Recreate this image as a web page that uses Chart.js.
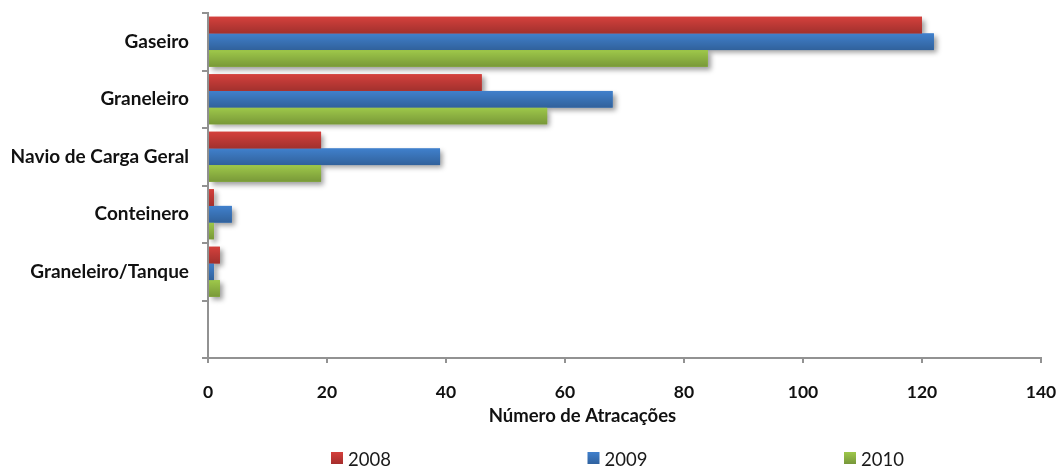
<!DOCTYPE html>
<html>
<head>
<meta charset="utf-8">
<title>Número de Atracações</title>
<script src="https://cdn.jsdelivr.net/npm/chart.js@4/dist/chart.umd.min.js"></script>
<style>
  html, body { margin: 0; padding: 0; background: #ffffff; }
  canvas { display: block; }
</style>
</head>
<body>
<canvas id="chart" width="1062" height="468"></canvas>
<script>
// Ship types (the last slot is left empty on purpose)
const categories = ['Gaseiro', 'Graneleiro', 'Navio de Carga Geral', 'Conteinero', 'Graneleiro/Tanque', ''];
const seriesNames = ['2008', '2009', '2010'];
const values2008 = [120, 46, 19, 1, 2];
const values2009 = [122, 68, 39, 4, 1];
const values2010 = [84, 57, 19, 1, 2];
const xTickValues = [0, 20, 40, 60, 80, 100, 120, 140];
const axisTitle = 'Número de Atracações';

const seriesTop = ['#d4403c', '#4080cc', '#9ec84a'];
const seriesBottom = ['#a52d2c', '#30629f', '#77973a'];
const axisGrey = '#929292';
const FONT = 'Lato, "Open Sans", "Liberation Sans", sans-serif';

// Soft drop shadow behind every bar, drawn before the bars themselves
const barShadow = {
  id: 'barShadow',
  beforeDatasetsDraw(chart) {
    const ctx = chart.ctx;
    ctx.save();
    ctx.shadowColor = 'rgba(0,0,0,0.38)';
    ctx.shadowBlur = 5;
    ctx.shadowOffsetX = 3;
    ctx.shadowOffsetY = 3;
    chart.data.datasets.forEach((ds, di) => {
      chart.getDatasetMeta(di).data.forEach(el => {
        const p = el.getProps(['x', 'y', 'base', 'height'], true);
        const left = Math.min(p.base, p.x);
        const w = Math.abs(p.x - p.base);
        if (w < 0.5) return;
        ctx.fillStyle = ds.backgroundColor;
        ctx.fillRect(left, p.y - p.height / 2, w, p.height);
      });
    });
    ctx.restore();
  }
};

// Vertical shading over each bar: full colour at the top, darker at the bottom
const barShade = {
  id: 'barShade',
  afterDatasetsDraw(chart) {
    const ctx = chart.ctx;
    ctx.save();
    chart.data.datasets.forEach((ds, di) => {
      chart.getDatasetMeta(di).data.forEach(el => {
        const p = el.getProps(['x', 'y', 'base', 'height'], true);
        const left = Math.min(p.base, p.x);
        const w = Math.abs(p.x - p.base);
        if (w < 0.5) return;
        const top = p.y - p.height / 2;
        const g = ctx.createLinearGradient(0, top, 0, top + p.height);
        g.addColorStop(0, 'rgba(0,0,0,0)');
        g.addColorStop(1, 'rgba(0,0,0,0.24)');
        ctx.fillStyle = g;
        ctx.fillRect(left, top, w, p.height);
      });
    });
    ctx.restore();
  }
};

// Axis title under the value axis and a widely spaced legend row
const titleAndLegend = {
  id: 'titleAndLegend',
  afterDraw(chart) {
    const ctx = chart.ctx;
    const area = chart.chartArea;
    const plotW = area.right - area.left;
    ctx.save();
    ctx.fillStyle = '#111111';
    ctx.font = 'bold 18.5px ' + FONT;
    ctx.textAlign = 'center';
    ctx.textBaseline = 'alphabetic';
    ctx.fillText(axisTitle, area.left + plotW * 0.4495, 422);

    const step = 256.5;
    const startX = area.left + 123;
    ctx.font = '18.5px ' + FONT;
    ctx.textAlign = 'left';
    chart.data.datasets.forEach((ds, i) => {
      const bx = startX + i * step;
      const g = ctx.createLinearGradient(0, 452, 0, 464);
      g.addColorStop(0, seriesTop[i]);
      g.addColorStop(1, seriesBottom[i]);
      ctx.fillStyle = g;
      ctx.fillRect(bx, 452, 12, 12);
      ctx.fillStyle = '#1a1a1a';
      ctx.fillText(ds.label, bx + 17, 466);
    });
    ctx.restore();
  }
};

// Fixed axis sizes so the plot area keeps its place
function fixX(s) {
  s.height = 60;
  s.paddingLeft = 0; s.paddingRight = 0; s.paddingTop = 0; s.paddingBottom = 0;
}
function fixY(s) {
  s.width = 208;
  s.paddingLeft = 0; s.paddingRight = 0; s.paddingTop = 0; s.paddingBottom = 0;
}

new Chart(document.getElementById('chart'), {
  type: 'bar',
  data: {
    labels: categories,
    datasets: [
      { label: seriesNames[0], data: values2008, backgroundColor: seriesTop[0] },
      { label: seriesNames[1], data: values2009, backgroundColor: seriesTop[1] },
      { label: seriesNames[2], data: values2010, backgroundColor: seriesTop[2] }
    ]
  },
  options: {
    indexAxis: 'y',
    responsive: false,
    animation: false,
    datasets: { bar: { borderWidth: 0, barPercentage: 1, categoryPercentage: 0.87 } },
    layout: { padding: { top: 13, right: 21, bottom: 50, left: 0 } },
    plugins: {
      legend: { display: false },
      tooltip: { enabled: false }
    },
    scales: {
      x: {
        type: 'linear',
        min: 0,
        max: 140,
        afterBuildTicks: s => { s.ticks = xTickValues.map(v => ({ value: v })); },
        afterFit: fixX,
        border: { display: true, color: axisGrey, width: 2 },
        grid: { drawOnChartArea: false, drawTicks: true, tickLength: 5, color: axisGrey, lineWidth: 2 },
        ticks: { color: '#111111', padding: 19, font: { family: FONT, size: 17.5, weight: 'bold' } }
      },
      y: {
        afterFit: fixY,
        border: { display: true, color: axisGrey, width: 2 },
        grid: { drawOnChartArea: false, drawTicks: true, tickLength: 6, color: axisGrey, lineWidth: 2, offset: true },
        ticks: { color: '#111111', padding: 13, autoSkip: false, font: { family: FONT, size: 19, weight: 'bold' } }
      }
    }
  },
  plugins: [barShadow, barShade, titleAndLegend]
});
</script>
</body>
</html>
